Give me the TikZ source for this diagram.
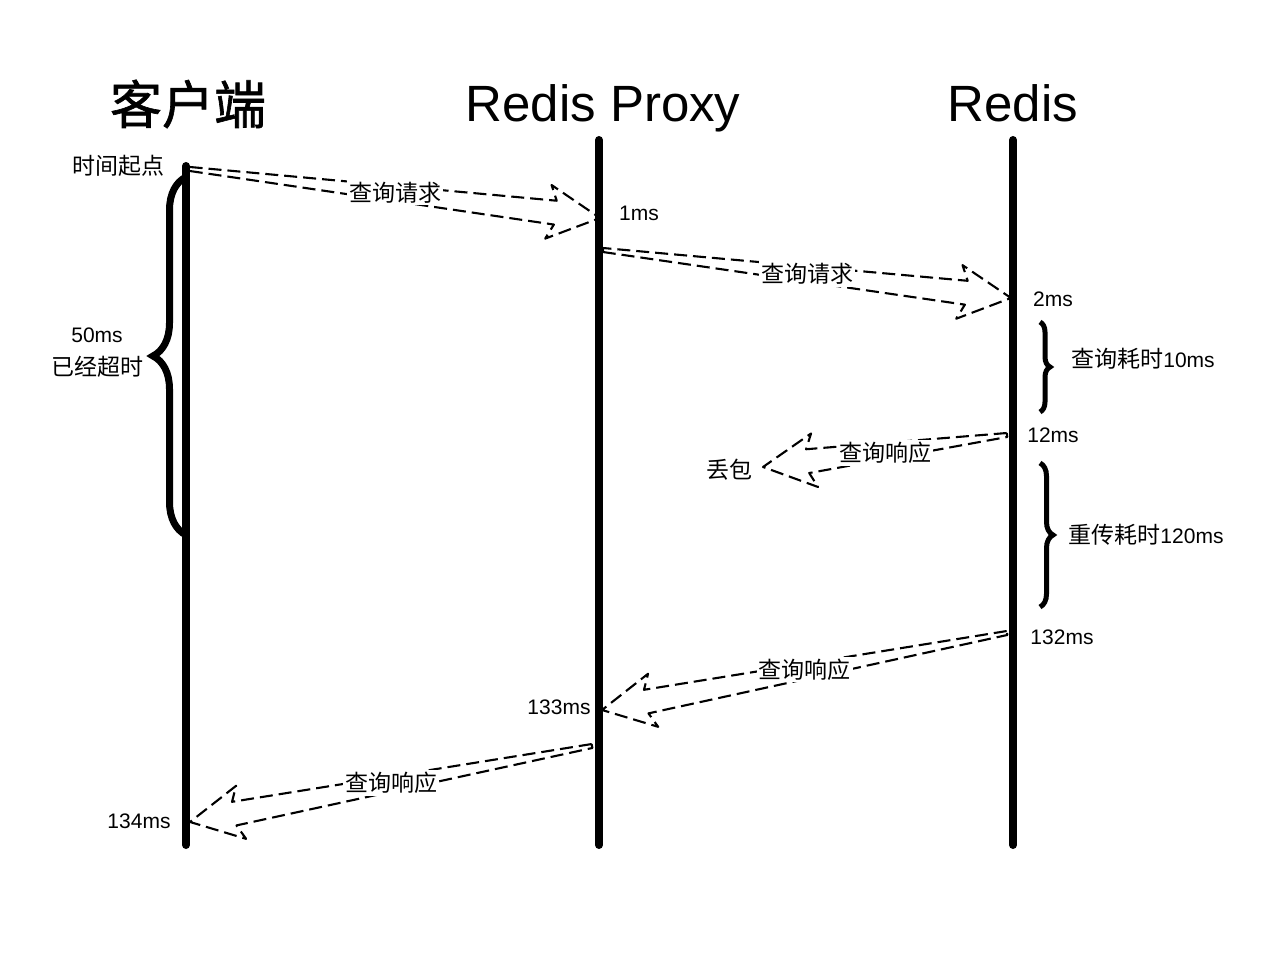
\documentclass[tikz,border=0pt]{standalone}
\usepackage{fontspec}
\setmainfont{Liberation Sans}
\newfontfamily\cjk{Noto Sans CJK SC}
\newfontfamily\cjkmed{Noto Sans CJK SC}[FakeBold=1.2]
\usetikzlibrary{calc,decorations.pathreplacing}
\newcommand\zh[1]{{\cjk\fontsize{23}{27}\selectfont #1}}
\newcommand\msgarrow[2]{%
  \path let \p1=(#1), \p2=(#2) in
    \pgfextra{%
      \pgfmathsetmacro\tmpang{atan2(\y2-\y1,\x2-\x1)}%
      \pgfmathsetmacro\tmplen{veclen(\x2-\x1,\y2-\y1)}%
      \xdef\msgang{\tmpang}\xdef\msglen{\tmplen}};
  \draw[hollowarrow, shift={(#1)}, rotate=\msgang]
    (0,2) -- ({\msglen-45},12) -- ({\msglen-52},27) -- (\msglen,0)
    -- ({\msglen-52},-27) -- ({\msglen-45},-12) -- (0,-2) -- cycle;
}
\begin{document}
\begin{tikzpicture}[x=1pt,y=-1pt,
  lifeline/.style={line width=8pt, line cap=round},
  hollowarrow/.style={draw, line width=2.1pt, dash pattern=on 13pt off 6pt, line join=round},
  lbl/.style={font=\fontsize{21}{25}\selectfont, inner sep=1pt},
  msglbl/.style={fill=white, inner sep=2pt},
  title/.style={font=\fontsize{51}{60}\selectfont, anchor=base},
  ztitle/.style={font=\cjkmed\fontsize{52}{60}\selectfont},
  bigbrace/.style={decorate, decoration={brace, amplitude=33pt}, line width=7pt},
  smallbrace/.style={decorate, decoration={brace, amplitude=#1}, line width=5pt},
  ]
\useasboundingbox[fill=white] (0,0) rectangle (1280,960);

% titles
\node[ztitle] (tc) at (188,104) {客户端};
\node[title] (tp) at (603,122) {Redis Proxy};
\node[title] (tr) at (1013,122) {Redis};

% lifeline end points
\coordinate (ctop) at (186,166);
\coordinate (cbot) at (186,845);
\coordinate (ptop) at (599,140);
\coordinate (pbot) at (599,845);
\coordinate (rtop) at (1013,140);
\coordinate (rbot) at (1013,845);

% message points
\coordinate (m1s) at (190,169);
\coordinate (m1e) at (600,218);
\coordinate (m2s) at (603,250);
\coordinate (m2e) at (1011,298);
\coordinate (m3s) at (1007,435);
\coordinate (m3e) at (763,467);
\coordinate (m4s) at (1007,633);
\coordinate (m4e) at (602,710);
\coordinate (m5s) at (592,746);
\coordinate (m5e) at (190,822);

% arrows
\msgarrow{m1s}{m1e}
\msgarrow{m2s}{m2e}
\msgarrow{m3s}{m3e}
\msgarrow{m4s}{m4e}
\msgarrow{m5s}{m5e}

\node[msglbl] (l1) at ($(m1s)!0.5!(m1e)+(0,-1)$) {\zh{查询请求}};
\node[msglbl] (l2) at ($(m2s)!0.5!(m2e)$) {\zh{查询请求}};
\node[msglbl] (l3) at ($(m3s)!0.5!(m3e)+(0,2)$) {\zh{查询响应}};
\node[msglbl] (l4) at ($(m4s)!0.5!(m4e)+(0,-2)$) {\zh{查询响应}};
\node[msglbl] (l5) at ($(m5s)!0.5!(m5e)+(0,-1)$) {\zh{查询响应}};

% lifelines
\draw[lifeline] (ctop) -- (cbot);
\draw[lifeline] (ptop) -- (pbot);
\draw[lifeline] (rtop) -- (rbot);

% braces
\coordinate (b1s) at (186,535);
\coordinate (b1e) at (186,177);
\draw[bigbrace] (b1s) -- (b1e);
\coordinate (b2s) at (1040,322);
\coordinate (b2e) at (1040,412);
\draw[smallbrace=10pt] (b2s) -- (b2e);
\coordinate (b3s) at (1040,463);
\coordinate (b3e) at (1040,607);
\draw[smallbrace=13pt] (b3s) -- (b3e);

% labels
\node[lbl] (t0) at (118,166) {\zh{时间起点}};
\node[lbl] (t50) at (97,335) {50ms};
\node[lbl] (tto) at (97,367) {\zh{已经超时}};
\node[lbl] (t1) at (639,213) {1ms};
\node[lbl] (t2) at (1053,299) {2ms};
\node[lbl] (q10) at (1143,359) {\zh{查询耗时}10ms};
\node[lbl] (t12) at (1053,435) {12ms};
\node[lbl] (drop) at (729,470) {\zh{丢包}};
\node[lbl] (r120) at (1146,535) {\zh{重传耗时}120ms};
\node[lbl] (t132) at (1062,637) {132ms};
\node[lbl] (t133) at (559,707) {133ms};
\node[lbl] (t134) at (139,821) {134ms};
\end{tikzpicture}
\end{document}
